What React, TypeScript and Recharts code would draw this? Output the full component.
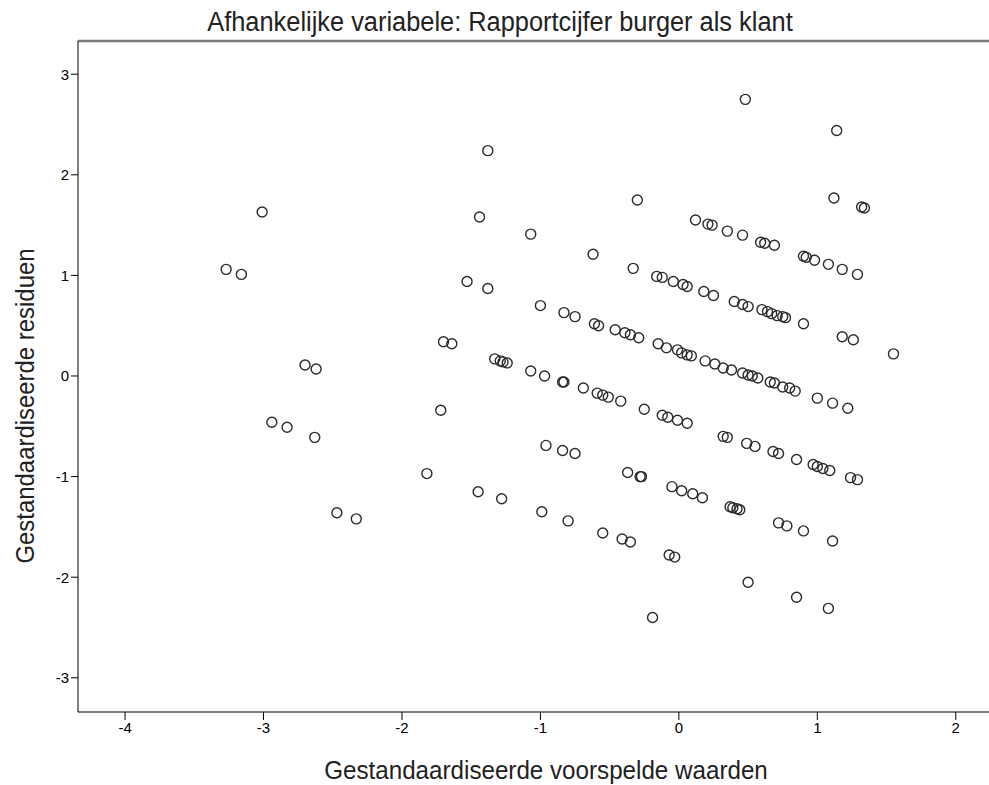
import { ScatterChart, Scatter, XAxis, YAxis } from 'recharts'

const leftGroup: [number, number][] = [
  [-3.01, 1.63], [-3.27, 1.06], [-3.16, 1.01], [-2.7, 0.11], [-2.62, 0.07],
  [-2.94, -0.46], [-2.83, -0.51], [-2.63, -0.61], [-2.47, -1.36], [-2.33, -1.42],
]

const upperGroup: [number, number][] = [
  [-1.38, 2.24], [-1.44, 1.58], [-1.07, 1.41], [-0.62, 1.21], [-0.3, 1.75],
  [0.48, 2.75], [1.14, 2.44], [1.12, 1.77], [1.32, 1.68], [1.34, 1.67],
  [-1.53, 0.94], [-1.38, 0.87], [-1.7, 0.34], [-1.64, 0.32], [1.55, 0.22],
]

const bandA: [number, number][] = [
  [0.12, 1.55], [0.21, 1.51], [0.24, 1.5], [0.35, 1.44], [0.46, 1.4],
  [0.59, 1.33], [0.62, 1.32], [0.69, 1.3], [0.9, 1.19], [0.92, 1.18],
  [0.98, 1.15], [1.08, 1.11], [1.18, 1.06], [1.29, 1.01],
]

const bandB: [number, number][] = [
  [-0.33, 1.07], [-0.16, 0.99], [-0.12, 0.98], [-0.04, 0.94], [0.03, 0.91],
  [0.06, 0.89], [0.18, 0.84], [0.25, 0.8], [0.4, 0.74], [0.46, 0.71],
  [0.5, 0.69], [0.6, 0.66], [0.64, 0.64], [0.67, 0.62], [0.71, 0.6],
  [0.75, 0.59], [0.77, 0.58], [0.9, 0.52], [1.18, 0.39], [1.26, 0.36],
]

const bandC: [number, number][] = [
  [-1.33, 0.17], [-1.29, 0.15], [-1.27, 0.14], [-1.24, 0.13],
  [-1.0, 0.7], [-0.83, 0.63], [-0.75, 0.59], [-0.61, 0.52], [-0.58, 0.5],
  [-0.46, 0.46], [-0.39, 0.43], [-0.35, 0.41], [-0.29, 0.38], [-0.15, 0.32],
  [-0.09, 0.28], [-0.01, 0.26], [0.02, 0.23], [0.06, 0.21], [0.09, 0.2],
  [0.19, 0.15], [0.26, 0.12], [0.32, 0.08], [0.38, 0.06], [0.46, 0.03],
  [0.5, 0.01], [0.53, 0.0], [0.57, -0.02], [0.66, -0.06], [0.69, -0.07],
  [0.75, -0.11], [0.8, -0.12], [0.84, -0.15], [1.0, -0.22], [1.11, -0.27],
  [1.22, -0.32],
]

const bandD: [number, number][] = [
  [-1.07, 0.05], [-0.97, 0.0], [-0.84, -0.06], [-0.83, -0.06], [-0.69, -0.12],
  [-0.59, -0.17], [-0.55, -0.19], [-0.51, -0.21], [-0.42, -0.25], [-0.25, -0.33],
  [-0.12, -0.39], [-0.08, -0.41], [-0.01, -0.44], [0.06, -0.47], [-1.72, -0.34],
  [0.32, -0.6], [0.35, -0.61], [0.49, -0.67], [0.55, -0.7], [0.68, -0.75],
  [0.72, -0.77], [0.85, -0.83], [0.97, -0.88], [1.0, -0.9], [1.04, -0.92],
  [1.09, -0.94], [1.24, -1.01], [1.29, -1.03],
]

const bandE: [number, number][] = [
  [-1.82, -0.97], [-0.96, -0.69], [-0.84, -0.74], [-0.75, -0.77], [-0.37, -0.96],
  [-0.28, -1.0], [-0.27, -1.0], [-0.05, -1.1], [0.02, -1.14], [0.1, -1.17],
  [0.17, -1.21], [0.37, -1.3], [0.39, -1.31], [0.42, -1.32], [0.44, -1.33],
  [0.72, -1.46], [0.78, -1.49], [0.9, -1.54], [1.11, -1.64],
]

const bandF: [number, number][] = [
  [-1.45, -1.15], [-1.28, -1.22], [-0.99, -1.35], [-0.8, -1.44], [-0.55, -1.56],
  [-0.41, -1.62], [-0.35, -1.65], [-0.07, -1.78], [-0.03, -1.8], [0.5, -2.05],
  [0.85, -2.2], [1.08, -2.31], [-0.19, -2.4],
]

const xTicks = [-4, -3, -2, -1, 0, 1, 2]
const yTicks = [-3, -2, -1, 0, 1, 2, 3]

const points = [...leftGroup, ...upperGroup, ...bandA, ...bandB, ...bandC, ...bandD, ...bandE, ...bandF].map(
  ([x, y]) => ({ x, y })
)

const FONT = '"Liberation Sans", Arial, sans-serif'

const Ring = (props: any) => (
  <circle cx={props.cx} cy={props.cy} r={5} fill="none" stroke="#2b2b2b" strokeWidth={1.4} />
)

export default function App() {
  return (
    <div style={{ position: 'absolute', left: 0, top: 0, width: 989, height: 785, background: '#fff', fontFamily: FONT }}>
      <div
        style={{
          position: 'absolute',
          left: 500,
          top: 22,
          transform: 'translate(-50%, -50%) scaleX(0.94)',
          whiteSpace: 'nowrap',
          lineHeight: 1,
          fontSize: 27,
          color: '#222',
        }}
      >
        Afhankelijke variabele: Rapportcijfer burger als klant
      </div>
      <ScatterChart width={989} height={785} margin={{ top: 0, right: 0, bottom: 0, left: 0 }}>
        <XAxis
          xAxisId="top"
          orientation="top"
          type="number"
          dataKey="x"
          domain={[-4.34, 2.24]}
          height={41}
          tick={false}
          tickLine={false}
          axisLine={{ stroke: '#7a7a7a', strokeWidth: 2.5 }}
        />
        <XAxis
          type="number"
          dataKey="x"
          domain={[-4.34, 2.24]}
          ticks={xTicks}
          height={73}
          tickSize={8}
          axisLine={{ stroke: '#000' }}
          tickLine={{ stroke: '#000' }}
          tick={{ fill: '#000', fontSize: 15, fontFamily: FONT }}
        />
        <YAxis
          type="number"
          dataKey="y"
          domain={[-3.34, 3.33]}
          ticks={yTicks}
          width={78}
          tickSize={7}
          axisLine={{ stroke: '#000' }}
          tickLine={{ stroke: '#000' }}
          tick={{ fill: '#000', fontSize: 15, fontFamily: FONT }}
        />
        <Scatter data={points} xAxisId={0} shape={Ring} isAnimationActive={false} />
        <Scatter data={[]} xAxisId="top" isAnimationActive={false} />
      </ScatterChart>
      <div
        style={{
          position: 'absolute',
          left: 546,
          top: 770,
          transform: 'translate(-50%, -50%) scaleX(0.93)',
          whiteSpace: 'nowrap',
          lineHeight: 1,
          fontSize: 26,
          color: '#222',
        }}
      >
        Gestandaardiseerde voorspelde waarden
      </div>
      <div
        style={{
          position: 'absolute',
          left: 25,
          top: 406,
          transform: 'translate(-50%, -50%) rotate(-90deg) scaleX(0.92)',
          whiteSpace: 'nowrap',
          lineHeight: 1,
          fontSize: 26,
          color: '#222',
        }}
      >
        Gestandaardiseerde residuen
      </div>
    </div>
  )
}
